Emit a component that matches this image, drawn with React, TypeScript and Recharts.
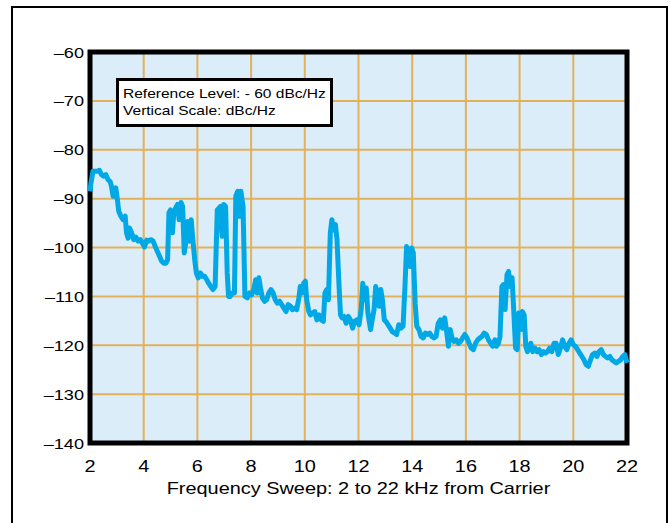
import { LineChart, Line, XAxis, YAxis, CartesianGrid, ReferenceArea, Label } from 'recharts'

// frequency offset from carrier, kHz
const freqs = [
  2.0, 2.03, 2.11, 2.27, 2.35, 2.43, 2.51, 2.59, 2.67, 2.75, 2.8, 2.86, 2.96, 3.02, 3.07, 3.15, 3.23, 3.31, 3.36, 3.42,
  3.47, 3.55, 3.63, 3.71, 3.79, 3.87, 3.95, 4.03, 4.11, 4.19, 4.27, 4.35, 4.43, 4.51, 4.59, 4.67, 4.75, 4.83, 4.89, 4.94,
  5.0, 5.07, 5.12, 5.19, 5.26, 5.32, 5.39, 5.45, 5.51, 5.58, 5.64, 5.71, 5.77, 5.83, 5.9, 5.96, 6.03, 6.11, 6.19, 6.27,
  6.35, 6.42, 6.5, 6.58, 6.66, 6.74, 6.86, 6.92, 6.98, 7.05, 7.11, 7.16, 7.22, 7.3, 7.38, 7.43, 7.5, 7.56, 7.62, 7.7,
  7.77, 7.86, 7.94, 8.02, 8.1, 8.17, 8.23, 8.29, 8.36, 8.42, 8.5, 8.58, 8.66, 8.74, 8.82, 8.9, 8.98, 9.06, 9.14, 9.22,
  9.3, 9.38, 9.46, 9.54, 9.62, 9.7, 9.78, 9.83, 9.89, 9.96, 10.02, 10.07, 10.15, 10.21, 10.29, 10.37, 10.45, 10.53, 10.61, 10.69,
  10.75, 10.82, 10.88, 10.95, 11.01, 11.07, 11.14, 11.2, 11.27, 11.33, 11.39, 11.46, 11.54, 11.62, 11.7, 11.78, 11.86, 11.94, 12.02, 12.1,
  12.16, 12.22, 12.29, 12.35, 12.45, 12.51, 12.58, 12.64, 12.7, 12.77, 12.83, 12.89, 12.96, 13.02, 13.1, 13.18, 13.26, 13.34, 13.42, 13.5,
  13.58, 13.66, 13.73, 13.79, 13.85, 13.92, 13.98, 14.04, 14.11, 14.17, 14.25, 14.33, 14.41, 14.49, 14.57, 14.65, 14.73, 14.81, 14.89, 14.97,
  15.05, 15.13, 15.21, 15.29, 15.35, 15.42, 15.48, 15.56, 15.64, 15.72, 15.8, 15.88, 15.96, 16.04, 16.12, 16.2, 16.28, 16.36, 16.44, 16.52,
  16.6, 16.68, 16.76, 16.84, 16.92, 17.0, 17.08, 17.14, 17.21, 17.27, 17.34, 17.4, 17.46, 17.53, 17.59, 17.65, 17.72, 17.78, 17.85, 17.91,
  17.97, 18.04, 18.1, 18.17, 18.23, 18.29, 18.36, 18.42, 18.49, 18.57, 18.65, 18.73, 18.81, 18.89, 18.97, 19.04, 19.12, 19.2, 19.28, 19.36,
  19.44, 19.52, 19.6, 19.68, 19.76, 19.84, 19.92, 20.0, 20.08, 20.16, 20.24, 20.32, 20.4, 20.48, 20.56, 20.64, 20.72, 20.8, 20.88, 20.96,
  21.04, 21.12, 21.2, 21.28, 21.36, 21.44, 21.52, 21.6, 21.68, 21.76, 21.84, 21.92, 22.0,
]

// measured level, dBc/Hz
const levels = [
  -88.5, -87.0, -84.4, -84.4, -84.2, -85.1, -85.4, -85.1, -86.1, -86.5, -87.5, -89.5, -87.8, -90.2, -92.6, -93.6, -94.3, -93.6, -97.0, -98.1,
  -96.0, -97.0, -98.4, -97.9, -98.7, -98.4, -99.1, -99.9, -98.5, -98.7, -98.4, -98.7, -99.8, -100.8, -101.8, -102.8, -103.2, -103.2, -102.5, -92.9,
  -92.3, -97.0, -92.9, -91.9, -91.2, -94.3, -90.8, -91.6, -101.1, -98.4, -94.7, -98.7, -94.3, -98.4, -102.5, -105.2, -106.2, -105.2, -105.9, -105.9,
  -106.6, -107.3, -108.0, -108.6, -108.0, -92.3, -91.6, -97.7, -91.2, -91.6, -105.2, -110.0, -110.0, -109.3, -109.3, -89.5, -88.5, -93.6, -88.5, -91.6,
  -110.0, -110.3, -109.3, -109.7, -108.6, -106.6, -109.3, -106.2, -108.6, -110.3, -111.0, -110.7, -109.3, -108.6, -109.3, -110.7, -111.4, -111.0, -111.7, -112.4,
  -113.1, -111.7, -112.0, -112.7, -112.4, -112.7, -110.3, -108.0, -109.3, -107.3, -106.9, -110.7, -113.1, -113.8, -113.4, -113.1, -114.8, -113.8, -114.8, -115.1,
  -109.3, -108.6, -110.7, -97.0, -94.3, -96.4, -95.3, -98.4, -107.3, -113.8, -114.4, -114.1, -115.5, -114.1, -114.8, -116.5, -115.1, -114.8, -115.8, -112.7,
  -107.3, -110.7, -108.3, -113.4, -116.8, -114.8, -112.7, -108.0, -109.3, -112.0, -108.6, -110.7, -114.8, -115.1, -115.8, -116.5, -117.2, -117.5, -117.8, -115.8,
  -116.5, -116.1, -108.0, -99.8, -100.5, -103.9, -100.1, -101.1, -111.4, -116.1, -116.8, -118.2, -118.5, -117.5, -117.8, -117.5, -118.2, -118.5, -118.2, -115.5,
  -114.8, -116.5, -114.4, -117.5, -120.2, -116.8, -118.5, -119.2, -118.9, -119.6, -119.2, -118.5, -117.8, -118.5, -119.6, -120.6, -120.9, -119.6, -118.9, -118.5,
  -118.2, -117.5, -117.8, -118.9, -119.6, -120.2, -118.9, -120.2, -119.6, -118.2, -108.0, -107.6, -112.7, -105.6, -104.9, -108.0, -106.2, -112.7, -120.6, -120.9,
  -113.4, -116.8, -113.1, -113.8, -120.2, -121.3, -120.2, -119.6, -121.3, -120.6, -121.3, -120.9, -121.9, -121.3, -121.6, -121.3, -120.6, -121.3, -119.6, -119.6,
  -121.9, -120.6, -118.9, -120.2, -120.9, -119.6, -118.9, -119.9, -120.2, -120.9, -121.6, -122.3, -123.0, -124.0, -124.3, -123.0, -121.9, -121.6, -122.3, -121.3,
  -120.9, -121.9, -122.3, -122.6, -122.3, -123.0, -123.3, -123.6, -123.3, -123.0, -122.3, -121.9, -123.6,
]

const xTicks = [2, 4, 6, 8, 10, 12, 14, 16, 18, 20, 22]
const yTicks = [-140, -130, -120, -110, -100, -90, -80, -70, -60]

const legendLines = ['Reference Level: - 60 dBc/Hz', 'Vertical Scale: dBc/Hz']
const xTitle = 'Frequency Sweep: 2 to 22 kHz from Carrier'

const data = freqs.map((f, i) => ({ freq: f, level: levels[i] }))

const FONT = '"Liberation Sans", Arial, Helvetica, sans-serif'
// the original lettering is a little wider than Arial
const STRETCH = 1.17

function XTick({ x, y, payload }: any) {
  return (
    <g transform={`translate(${x},${y})`}>
      <text transform={`scale(${STRETCH},1)`} textAnchor="middle" dy="0.71em" fontSize={17} fontFamily={FONT} fill="#000">
        {payload.value}
      </text>
    </g>
  )
}

function YTick({ x, y, payload }: any) {
  return (
    <g transform={`translate(${x},${y})`}>
      <text transform={`scale(${STRETCH},1)`} textAnchor="end" dy="0.355em" fontSize={15.5} fontFamily={FONT} fill="#000">
        {String(payload.value).replace('-', '\u2013')}
      </text>
    </g>
  )
}

function Title({ viewBox }: any) {
  const cx = viewBox.x + viewBox.width / 2
  return (
    <g transform={`translate(${cx},494)`}>
      <text transform={`scale(${STRETCH},1)`} textAnchor="middle" fontSize={17} fontFamily={FONT} fill="#000">
        {xTitle}
      </text>
    </g>
  )
}

export default function App() {
  return (
    <div style={{ position: 'absolute', left: 0, top: 0, width: 670, height: 523, overflow: 'hidden', background: '#fff', fontFamily: FONT }}>
      <div
        style={{
          position: 'absolute',
          left: 11,
          top: 6,
          width: 657,
          height: 600,
          boxSizing: 'border-box',
          border: '2px solid #000',
        }}
      />
      <LineChart
        width={670}
        height={523}
        data={data}
        margin={{ top: 52, right: 43, left: 30, bottom: 30 }}
        style={{ position: 'absolute', left: 0, top: 0 }}
      >
        <CartesianGrid fill="#dcedfa" fillOpacity={1} stroke="#e2b15a" strokeWidth={2} strokeDasharray="" />
        <XAxis
          dataKey="freq"
          type="number"
          domain={[2, 22]}
          ticks={xTicks}
          axisLine={false}
          tickLine={false}
          tickSize={0}
          tickMargin={17}
          height={50}
          tick={<XTick />}
          interval={0}
        >
          <Label content={<Title />} />
        </XAxis>
        <YAxis
          type="number"
          domain={[-140, -60]}
          ticks={yTicks}
          axisLine={false}
          tickLine={false}
          tickSize={0}
          tickMargin={6}
          width={60}
          interval={0}
          tick={<YTick />}
        />
        <Line
          type="linear"
          dataKey="level"
          stroke="#00a8e6"
          strokeWidth={5}
          strokeLinejoin="round"
          dot={false}
          isAnimationActive={false}
        />
        <ReferenceArea x1={2} x2={22} y1={-140} y2={-60} fill="none" stroke="#000" strokeWidth={5} ifOverflow="visible" />
      </LineChart>
      <div
        style={{
          position: 'absolute',
          left: 116,
          top: 78,
          width: 217,
          height: 49,
          boxSizing: 'border-box',
          border: '3px solid #000',
          background: '#fff',
          padding: '4px 0 0 4px',
          fontSize: 13.5,
          lineHeight: '17.4px',
          color: '#000',
        }}
      >
        {legendLines.map((t) => (
          <div key={t} style={{ whiteSpace: 'nowrap', transform: 'scaleX(1.15)', transformOrigin: 'left center' }}>{t}</div>
        ))}
      </div>
    </div>
  )
}
